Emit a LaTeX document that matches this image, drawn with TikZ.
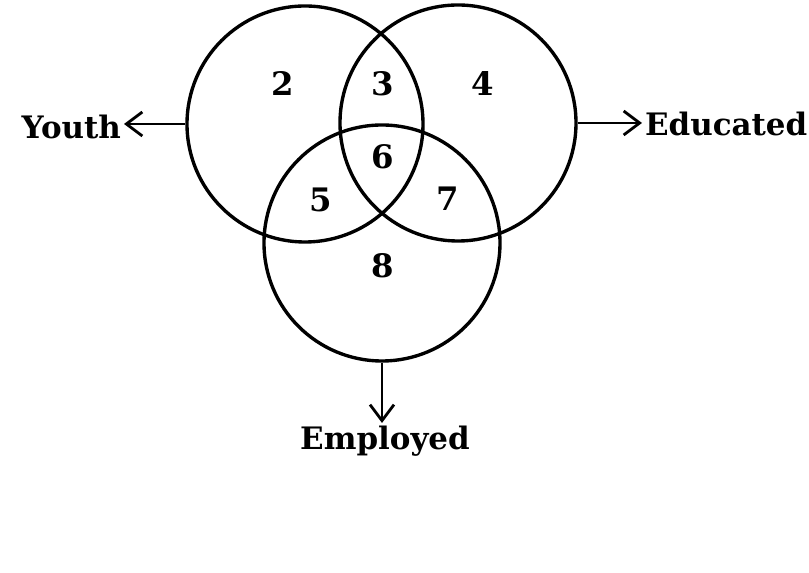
\documentclass[tikz,border=0pt]{standalone}
\usepackage{fontspec}
\setmainfont{DejaVu Serif}
\usetikzlibrary{arrows.meta}

\tikzset{
  set/.style={draw, circle, line width=2.4pt, minimum size=5.9cm, inner sep=0pt},
  region/.style={font=\bfseries\fontsize{23}{27}\selectfont},
  setlabel/.style={font=\bfseries\fontsize{22}{26}\selectfont, inner sep=2pt},
  pointer/.style={-{Straight Barb[length=4mm, width=6mm, line width=2pt]}, line width=2pt},
}

\begin{document}
\begin{tikzpicture}
        \useasboundingbox (0,0) rectangle (20.225,14.325);

        % the three sets
        \node[set] (youth) at (7.625,11.225) {};
        \node[set] (educ) at (11.45,11.25) {};
        \node[set] (empl) at (9.55,8.25) {};

        % region numbers
        \node[region] (r2) at (7.075,12.225) {2};
        \node[region] (r3) at (9.5625,12.225) {3};
        \node[region] (r4) at (12.075,12.225) {4};
        \node[region] (r6) at (9.575,10.4) {6};
        \node[region] (r5) at (8.025,9.325) {5};
        \node[region] (r7) at (11.2,9.35) {7};
        \node[region] (r8) at (9.575,7.675) {8};

        % set names
        \node[setlabel, anchor=east] (ylbl) at (3.1,11.15) {Youth};
        \node[setlabel, anchor=west] (elbl) at (16.05,11.225) {Educated};
        \node[setlabel, anchor=north] (mlbl) at (9.625,3.75) {Employed};

        \draw[pointer] (youth.west) -- (youth.west -| ylbl.east);
        \draw[pointer] (educ.east) -- (educ.east -| elbl.west);
        \draw[pointer] (empl.south) -- (empl.south |- mlbl.north);

    \end{tikzpicture}
\end{document}
